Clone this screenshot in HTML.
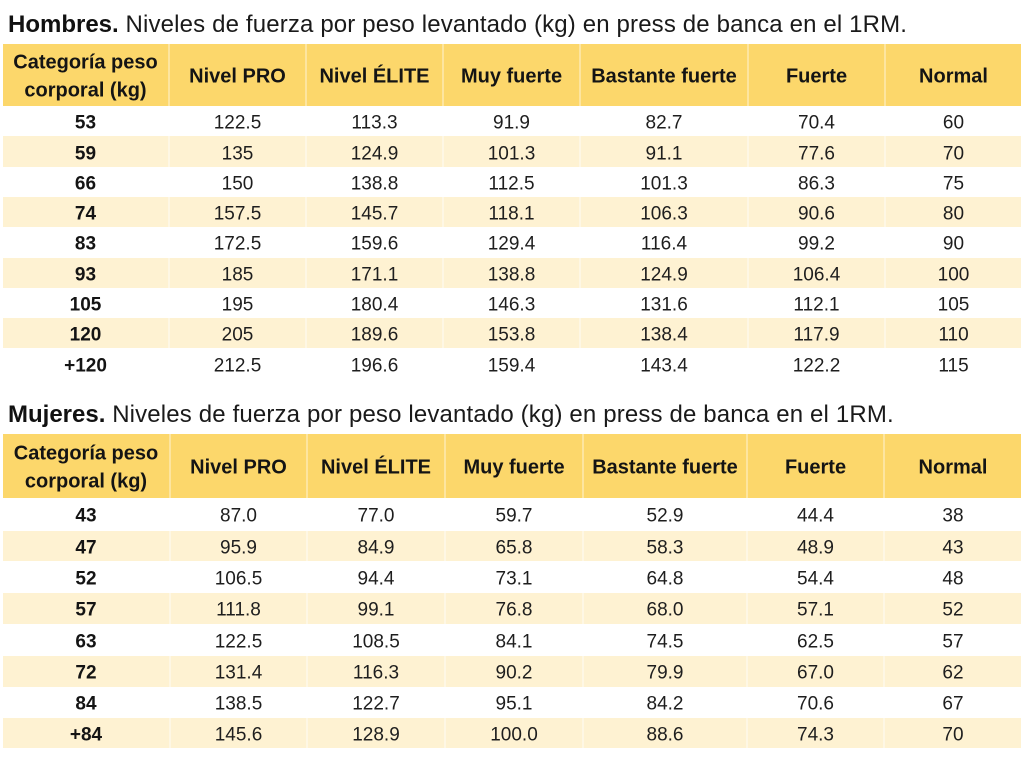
<!DOCTYPE html>
<html>
<head>
<meta charset="utf-8">
<style>
  html,body{margin:0;padding:0;background:#fff;}
  body{width:1024px;height:760px;position:relative;overflow:hidden;font-family:"Liberation Sans",Arial,sans-serif;color:#1c1c1c;}
  .title{position:absolute;left:8px;font-size:24px;line-height:28px;white-space:nowrap;color:#1a1a1a;}
  .title b{font-weight:bold;color:#111;}
  .title span{letter-spacing:0.15px;}
  .tbl{position:absolute;left:3px;width:1018px;}
  .row{display:flex;width:100%;}
  .cell{box-sizing:border-box;display:flex;align-items:center;justify-content:center;text-align:center;}
  .hdr{background:#FCD76B;}
  .hdr .cell{font-weight:bold;font-size:20px;line-height:28px;color:#141414;border-left:2px solid #FDE5A0;}
  .hdr .cell:first-child{border-left:none;}
  .hdr .cell > div{transform:translateY(1.5px);}
  .body .cell{font-size:19px;color:#1e1e1e;border-left:2px solid transparent;}
  .body .cell:first-child{font-weight:bold;color:#141414;border-left:none;}
  .body .cell > div{transform:translateY(2.3px);}
  .sh{background:#FEF2D2;}
  .sh .cell{border-left-color:#FEF7E4;}
  .sh .cell:first-child{border-left:none;}
  .c1{width:165px;}
  .c2{width:137px;}
  .c3{width:137px;}
  .c4{width:137px;}
  .c5{width:168px;}
  .c6{width:137px;}
  .c7{width:137px;}
  .t2 .c1{width:166px;}
  .t2 .c2{width:137px;}
  .t2 .c3{width:138px;}
  .t2 .c4{width:138px;}
  .t2 .c5{width:164px;}
  .t2 .c6{width:137px;}
  .t2 .c7{width:138px;}
</style>
</head>
<body>

<div class="title" style="top:11px;"><b>Hombres.</b><span> Niveles de fuerza por peso levantado (kg) en press de banca en el 1RM.</span></div>

<div class="tbl t1" style="top:44px;">
  <div class="row hdr" style="height:62px;">
    <div class="cell c1"><div>Categoría peso<br>corporal (kg)</div></div>
    <div class="cell c2"><div>Nivel PRO</div></div>
    <div class="cell c3"><div>Nivel ÉLITE</div></div>
    <div class="cell c4"><div>Muy fuerte</div></div>
    <div class="cell c5"><div>Bastante fuerte</div></div>
    <div class="cell c6"><div>Fuerte</div></div>
    <div class="cell c7"><div>Normal</div></div>
  </div>
  <div class="body">
    <div class="row" style="height:30.4px;"><div class="cell c1"><div>53</div></div><div class="cell c2"><div>122.5</div></div><div class="cell c3"><div>113.3</div></div><div class="cell c4"><div>91.9</div></div><div class="cell c5"><div>82.7</div></div><div class="cell c6"><div>70.4</div></div><div class="cell c7"><div>60</div></div></div>
    <div class="row sh" style="height:30.3px;"><div class="cell c1"><div>59</div></div><div class="cell c2"><div>135</div></div><div class="cell c3"><div>124.9</div></div><div class="cell c4"><div>101.3</div></div><div class="cell c5"><div>91.1</div></div><div class="cell c6"><div>77.6</div></div><div class="cell c7"><div>70</div></div></div>
    <div class="row" style="height:30.3px;"><div class="cell c1"><div>66</div></div><div class="cell c2"><div>150</div></div><div class="cell c3"><div>138.8</div></div><div class="cell c4"><div>112.5</div></div><div class="cell c5"><div>101.3</div></div><div class="cell c6"><div>86.3</div></div><div class="cell c7"><div>75</div></div></div>
    <div class="row sh" style="height:30.3px;"><div class="cell c1"><div>74</div></div><div class="cell c2"><div>157.5</div></div><div class="cell c3"><div>145.7</div></div><div class="cell c4"><div>118.1</div></div><div class="cell c5"><div>106.3</div></div><div class="cell c6"><div>90.6</div></div><div class="cell c7"><div>80</div></div></div>
    <div class="row" style="height:30.3px;"><div class="cell c1"><div>83</div></div><div class="cell c2"><div>172.5</div></div><div class="cell c3"><div>159.6</div></div><div class="cell c4"><div>129.4</div></div><div class="cell c5"><div>116.4</div></div><div class="cell c6"><div>99.2</div></div><div class="cell c7"><div>90</div></div></div>
    <div class="row sh" style="height:30.3px;"><div class="cell c1"><div>93</div></div><div class="cell c2"><div>185</div></div><div class="cell c3"><div>171.1</div></div><div class="cell c4"><div>138.8</div></div><div class="cell c5"><div>124.9</div></div><div class="cell c6"><div>106.4</div></div><div class="cell c7"><div>100</div></div></div>
    <div class="row" style="height:30.3px;"><div class="cell c1"><div>105</div></div><div class="cell c2"><div>195</div></div><div class="cell c3"><div>180.4</div></div><div class="cell c4"><div>146.3</div></div><div class="cell c5"><div>131.6</div></div><div class="cell c6"><div>112.1</div></div><div class="cell c7"><div>105</div></div></div>
    <div class="row sh" style="height:30.3px;"><div class="cell c1"><div>120</div></div><div class="cell c2"><div>205</div></div><div class="cell c3"><div>189.6</div></div><div class="cell c4"><div>153.8</div></div><div class="cell c5"><div>138.4</div></div><div class="cell c6"><div>117.9</div></div><div class="cell c7"><div>110</div></div></div>
    <div class="row" style="height:30.4px;"><div class="cell c1"><div>+120</div></div><div class="cell c2"><div>212.5</div></div><div class="cell c3"><div>196.6</div></div><div class="cell c4"><div>159.4</div></div><div class="cell c5"><div>143.4</div></div><div class="cell c6"><div>122.2</div></div><div class="cell c7"><div>115</div></div></div>
  </div>
</div>

<div class="title" style="top:401px;"><b>Mujeres.</b><span> Niveles de fuerza por peso levantado (kg) en press de banca en el 1RM.</span></div>

<div class="tbl t2" style="top:434px;">
  <div class="row hdr" style="height:64px;">
    <div class="cell c1"><div>Categoría peso<br>corporal (kg)</div></div>
    <div class="cell c2"><div>Nivel PRO</div></div>
    <div class="cell c3"><div>Nivel ÉLITE</div></div>
    <div class="cell c4"><div>Muy fuerte</div></div>
    <div class="cell c5"><div>Bastante fuerte</div></div>
    <div class="cell c6"><div>Fuerte</div></div>
    <div class="cell c7"><div>Normal</div></div>
  </div>
  <div class="body">
    <div class="row" style="height:32.5px;"><div class="cell c1"><div>43</div></div><div class="cell c2"><div>87.0</div></div><div class="cell c3"><div>77.0</div></div><div class="cell c4"><div>59.7</div></div><div class="cell c5"><div>52.9</div></div><div class="cell c6"><div>44.4</div></div><div class="cell c7"><div>38</div></div></div>
    <div class="row sh" style="height:30.5px;"><div class="cell c1"><div>47</div></div><div class="cell c2"><div>95.9</div></div><div class="cell c3"><div>84.9</div></div><div class="cell c4"><div>65.8</div></div><div class="cell c5"><div>58.3</div></div><div class="cell c6"><div>48.9</div></div><div class="cell c7"><div>43</div></div></div>
    <div class="row" style="height:32px;"><div class="cell c1"><div>52</div></div><div class="cell c2"><div>106.5</div></div><div class="cell c3"><div>94.4</div></div><div class="cell c4"><div>73.1</div></div><div class="cell c5"><div>64.8</div></div><div class="cell c6"><div>54.4</div></div><div class="cell c7"><div>48</div></div></div>
    <div class="row sh" style="height:30.5px;"><div class="cell c1"><div>57</div></div><div class="cell c2"><div>111.8</div></div><div class="cell c3"><div>99.1</div></div><div class="cell c4"><div>76.8</div></div><div class="cell c5"><div>68.0</div></div><div class="cell c6"><div>57.1</div></div><div class="cell c7"><div>52</div></div></div>
    <div class="row" style="height:32.5px;"><div class="cell c1"><div>63</div></div><div class="cell c2"><div>122.5</div></div><div class="cell c3"><div>108.5</div></div><div class="cell c4"><div>84.1</div></div><div class="cell c5"><div>74.5</div></div><div class="cell c6"><div>62.5</div></div><div class="cell c7"><div>57</div></div></div>
    <div class="row sh" style="height:30.5px;"><div class="cell c1"><div>72</div></div><div class="cell c2"><div>131.4</div></div><div class="cell c3"><div>116.3</div></div><div class="cell c4"><div>90.2</div></div><div class="cell c5"><div>79.9</div></div><div class="cell c6"><div>67.0</div></div><div class="cell c7"><div>62</div></div></div>
    <div class="row" style="height:31.5px;"><div class="cell c1"><div>84</div></div><div class="cell c2"><div>138.5</div></div><div class="cell c3"><div>122.7</div></div><div class="cell c4"><div>95.1</div></div><div class="cell c5"><div>84.2</div></div><div class="cell c6"><div>70.6</div></div><div class="cell c7"><div>67</div></div></div>
    <div class="row sh" style="height:29.5px;"><div class="cell c1"><div>+84</div></div><div class="cell c2"><div>145.6</div></div><div class="cell c3"><div>128.9</div></div><div class="cell c4"><div>100.0</div></div><div class="cell c5"><div>88.6</div></div><div class="cell c6"><div>74.3</div></div><div class="cell c7"><div>70</div></div></div>
  </div>
</div>

</body>
</html>
